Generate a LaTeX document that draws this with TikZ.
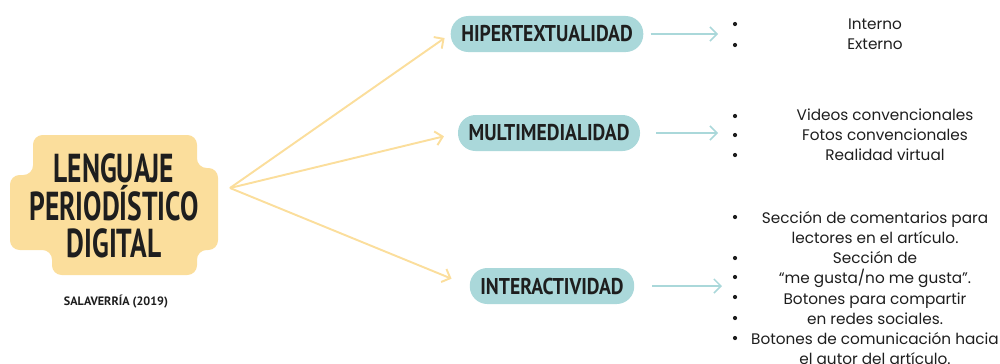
\documentclass[tikz,border=0pt]{standalone}
\usepackage{fontspec}
\setmainfont{Poppins}
\newfontfamily\headfont[FakeStretch=0.68]{PT Sans}
\newfontfamily\tagfont[FakeStretch=0.86]{PT Sans}
\newfontfamily\citefont{PT Sans}
\usetikzlibrary{arrows.meta}
\definecolor{sand}{RGB}{251,222,156}
\definecolor{sea}{RGB}{170,216,218}
\definecolor{ink}{RGB}{30,30,30}
\tikzset{
  topic/.style = {fill=sea, rounded corners=10pt, minimum height=20.5pt,
    inner xsep=6pt, text=ink, font=\tagfont\bfseries\fontsize{13}{13}\selectfont},
  items/.style = {align=center, inner sep=0pt, text=ink,
    font=\fontsize{8.7}{11.5}\selectfont},
  spoke/.style = {->, sand, line width=1.1pt},
  lead/.style = {->, sea, line width=0.9pt}
}
\tikzset{>={Straight Barb[length=4pt,width=8pt]}}

\begin{document}
\begin{tikzpicture}[x=0.02cm,y=-0.02cm]
  \useasboundingbox (0,0) rectangle (1000,363);
  % central cloud
  \fill[sand,rounded corners=5.5pt] (33,135) -- (197,135) -- (197,168) -- (218,168)
    -- (218,250) -- (197,250) -- (197,275) -- (52,275) -- (52,250) -- (10,250)
    -- (10,175) -- (33,175) -- cycle;
  \node[align=center, text=ink, inner sep=0pt,
        font=\headfont\bfseries\fontsize{23}{21.5}\selectfont]
    (main) at (114,206) {LENGUAJE\\PERIODÍSTICO\\DIGITAL};
  \node[text=ink, font=\citefont\bfseries\fontsize{6.9}{6.9}\selectfont]
    (ref) at (116,302) {SALAVERRÍA (2019)};
  \coordinate (src) at (230,188);

  % the three features
  \node[topic] (hiper) at (547,34) {HIPERTEXTUALIDAD};
  \node[topic] (multi) at (549,133) {MULTIMEDIALIDAD};
  \node[topic] (inter) at (552,286) {INTERACTIVIDAD};
  \draw[spoke,shorten >=4pt] (src) -- (hiper.west);
  \draw[spoke,shorten >=8pt] (src) -- (multi.west);
  \draw[spoke,shorten >=11pt] (src) -- (inter.west);

  % lists
  \coordinate (hiperEnd) at (718,34);
  \coordinate (multiEnd) at (718,133);
  \coordinate (interEnd) at (722,286);
  \draw[lead,shorten <=4pt] (hiper.east) -- (hiperEnd);
  \draw[lead,shorten <=9pt] (multi.east) -- (multiEnd);
  \draw[lead,shorten <=10pt] (inter.east) -- (interEnd);
  \node[items] (hiperList) at (875,34.5) {Interno\\Externo};
  \node[items] (multiList) at (885,135) {Videos convencionales\\Fotos convencionales\\Realidad virtual};
  \node[items] (interList) at (875,288) {Sección de comentarios para\\lectores en el artículo.\\Sección de\\“me gusta/no me gusta”.\\Botones para compartir\\en redes sociales.\\Botones de comunicación hacia\\el autor del artículo.};
  \foreach \y in {24,45,116,135,155,217,258,277,297,318,338}
    \fill[ink] (735,\y) circle (1.2pt);
\end{tikzpicture}
\end{document}
